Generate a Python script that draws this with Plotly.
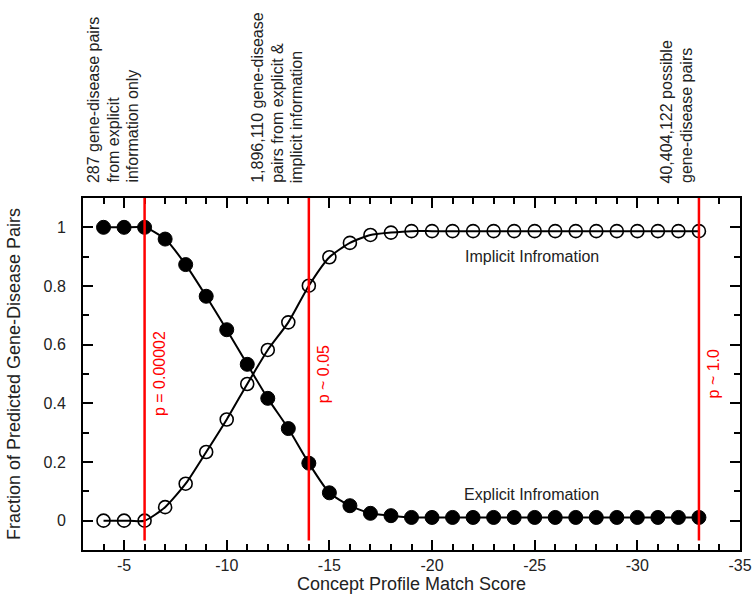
import plotly.graph_objects as go

# Data
scores = [-4, -5, -6, -7, -8, -9, -10, -11, -12, -13, -14, -15, -16, -17, -18,
          -19, -20, -21, -22, -23, -24, -25, -26, -27, -28, -29, -30, -31, -32, -33]
explicit = [1.0, 1.0, 1.0, 0.96, 0.873, 0.765, 0.651, 0.533, 0.417, 0.314, 0.196,
            0.095, 0.051, 0.025, 0.017, 0.011, 0.011, 0.011, 0.011, 0.011, 0.011,
            0.011, 0.011, 0.011, 0.011, 0.011, 0.011, 0.011, 0.011, 0.011]
implicit = [0.0, 0.0, 0.0, 0.046, 0.126, 0.234, 0.345, 0.466, 0.582, 0.676, 0.801,
            0.898, 0.947, 0.974, 0.982, 0.987, 0.987, 0.987, 0.987, 0.987, 0.987,
            0.987, 0.987, 0.987, 0.987, 0.987, 0.987, 0.987, 0.987, 0.987]

cutoffs = [-6, -14, -33]
cutoff_labels = ["p = 0.00002", "p ~ 0.05", "p ~ 1.0"]
cutoff_notes = [
    ["287 gene-disease pairs", "from explicit", "information only"],
    ["1,896,110 gene-disease", "pairs from explicit &", "implicit information"],
    ["40,404,122 possible", "gene-disease pairs"],
]
cutoff_line_tops = [1.73, 1.755, 1.755]  # data y where red lines end at top

x_ticks = [-5, -10, -15, -20, -25, -30, -35]
y_ticks = [0, 0.2, 0.4, 0.6, 0.8, 1]
y_tick_text = ["0", "0.2", "0.4", "0.6", "0.8", "1"]

FONT = "Liberation Sans, Arial, sans-serif"
TXT = "#222222"

fig = go.Figure()

fig.add_trace(go.Scatter(
    x=scores, y=explicit, mode="lines+markers", name="Explicit",
    line=dict(color="black", width=2, shape="spline", smoothing=0.6),
    marker=dict(symbol="circle", size=14, color="black",
                line=dict(color="black", width=1)),
    cliponaxis=False, showlegend=False,
))
fig.add_trace(go.Scatter(
    x=scores, y=implicit, mode="lines+markers", name="Implicit",
    line=dict(color="black", width=2, shape="spline", smoothing=0.6),
    marker=dict(symbol="circle-open", size=13, color="black",
                line=dict(color="black", width=1.6)),
    cliponaxis=False, showlegend=False,
))
# invisible trace carrying the mirrored (top/right) axes
fig.add_trace(go.Scatter(x=[scores[0]], y=[explicit[0]], xaxis="x2", yaxis="y2",
                         mode="markers", marker=dict(opacity=0), hoverinfo="skip",
                         showlegend=False))

shapes = []
for xc, top in zip(cutoffs, cutoff_line_tops):
    shapes.append(dict(type="line", xref="x", yref="y", x0=xc, x1=xc,
                       y0=-0.068, y1=top, line=dict(color="#ff0000", width=2.5),
                       layer="above"))

annotations = []
for xc, lab in zip(cutoffs, cutoff_labels):
    annotations.append(dict(x=xc, y=0.5, xref="x", yref="y", text=lab,
                            textangle=-90, showarrow=False, xanchor="left",
                            yanchor="middle", xshift=4,
                            font=dict(family=FONT, size=16, color="#ff0000")))
LINE_GAP = 19.5
for xc, lines in zip(cutoffs, cutoff_notes):
    n = len(lines)
    for i, ln in enumerate(lines):
        annotations.append(dict(x=xc, y=1, xref="x", yref="paper", text=ln,
                                textangle=-90, showarrow=False, xanchor="center",
                                yanchor="bottom", yshift=13,
                                xshift=-12.5 - LINE_GAP * (n - 1 - i),
                                font=dict(family=FONT, size=16, color=TXT)))
annotations.append(dict(x=-24.85, y=0.9, xref="x", yref="y",
                        text="Implicit Infromation", showarrow=False,
                        font=dict(family=FONT, size=16, color=TXT)))
annotations.append(dict(x=-24.85, y=0.088, xref="x", yref="y",
                        text="Explicit Infromation", showarrow=False,
                        font=dict(family=FONT, size=16, color=TXT)))

xcommon = dict(
    range=[-3, -35], tickvals=x_ticks,
    ticks="inside", ticklen=10, tickwidth=1.5, tickcolor="black",
    minor=dict(dtick=1, tick0=0, ticks="inside", ticklen=6, tickwidth=1.5,
               tickcolor="black", showgrid=False),
    showline=True, linecolor="black", linewidth=2,
    showgrid=False, zeroline=False, automargin=False,
)
ycommon = dict(
    range=[-0.1, 1.1], tickvals=y_ticks,
    ticks="inside", ticklen=10, tickwidth=1.5, tickcolor="black",
    minor=dict(dtick=0.1, tick0=0, ticks="inside", ticklen=6, tickwidth=1.5,
               tickcolor="black", showgrid=False),
    showline=True, linecolor="black", linewidth=2,
    showgrid=False, zeroline=False, automargin=False,
)

fig.update_layout(
    width=752, height=594,
    margin=dict(l=83, r=12, t=198, b=44),
    paper_bgcolor="white", plot_bgcolor="white",
    font=dict(family=FONT, size=16, color=TXT),
    shapes=shapes, annotations=annotations,
    xaxis=dict(
        **xcommon, ticktext=[str(v) for v in x_ticks], ticklabeloverflow="allow",
        tickfont=dict(family=FONT, size=16, color=TXT),
        title=dict(text="Concept Profile Match Score", standoff=6,
                   font=dict(family=FONT, size=18, color=TXT)),
    ),
    yaxis=dict(
        **ycommon, ticktext=y_tick_text, ticklabelstandoff=12,
        tickfont=dict(family=FONT, size=16, color=TXT),
        title=dict(text="Fraction of Predicted Gene-Disease Pairs", standoff=18,
                   font=dict(family=FONT, size=18, color=TXT)),
    ),
    xaxis2=dict(**xcommon, overlaying="x", side="top", showticklabels=False),
    yaxis2=dict(**ycommon, overlaying="y", side="right", showticklabels=False),
)

# remove the default page margin so the figure sits at the window's corner
fig.write_html("out.html",
               config={"displayModeBar": False},
               post_script="document.body.style.margin='0';"
                           "document.body.style.overflow='hidden';")
